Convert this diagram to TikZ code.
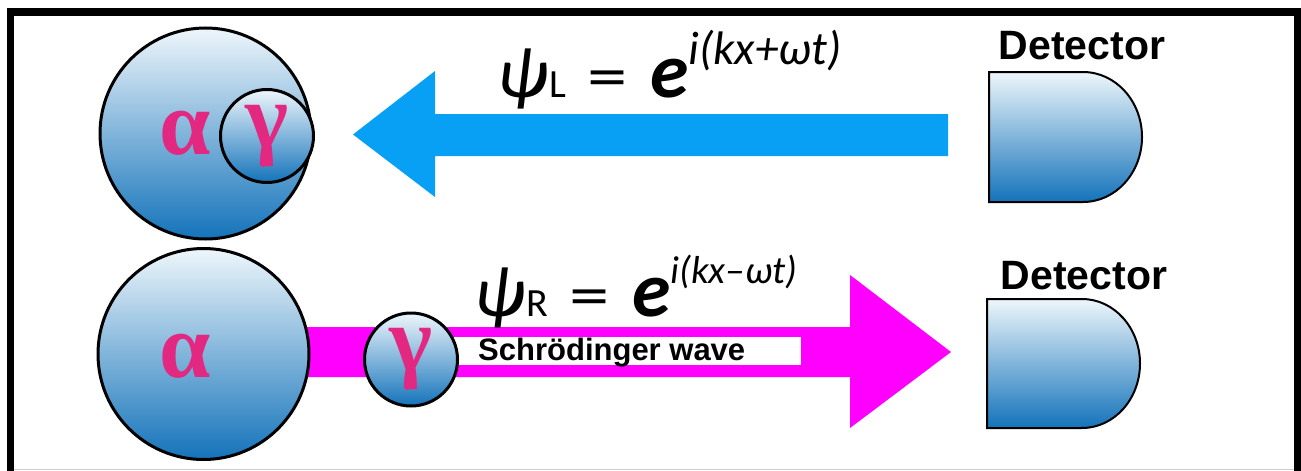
\documentclass[tikz,border=0pt]{standalone}
\usepackage{fontspec}
\setmainfont{Liberation Sans}
\newfontfamily\formfont{Carlito}
\newfontfamily\greekfont{Liberation Serif}
\usepackage{graphicx}
\usepackage{tikz}
\usetikzlibrary{positioning}
\definecolor{balltop}{RGB}{238,246,251}
\definecolor{ballbot}{RGB}{20,115,186}
\definecolor{greekpink}{RGB}{226,40,128}
\definecolor{waveblue}{RGB}{8,160,245}
\definecolor{wavemagenta}{RGB}{255,0,255}

\newcommand{\wavefn}[3]{{\fontsize{72}{72}\selectfont\itshape ψ}\hspace{1pt}{\fontsize{40}{40}\selectfont #1}\hspace{22pt}\scalebox{1.3}[1]{=}\hspace{22pt}{\fontsize{78}{78}\selectfont\bfseries\itshape e}\raisebox{33pt}{\fontsize{#3}{#3}\selectfont\itshape i(kx#2ωt)}}

\begin{document}
\begin{tikzpicture}[x=1pt,y=-1pt,
  ball/.style={circle, draw, line width=3pt, top color=balltop, bottom color=ballbot, inner sep=0pt},
  greek/.style={text=greekpink, font=\greekfont\bfseries\fontsize{92}{92}\selectfont, inner sep=0pt},
  dettext/.style={font=\bfseries\fontsize{41}{41}\selectfont, inner sep=0pt, anchor=base},
  formula/.style={font=\formfont\fontsize{62}{62}\selectfont, inner sep=0pt, anchor=base west},
  detector/.style={draw, line width=2pt, top color=balltop, bottom color=ballbot}]
  \useasboundingbox (0,0) rectangle (1301,471);
  \clip (0,0) rectangle (1301,471);
  \draw[line width=7.5pt] (10.5,12) rectangle (1297.5,490);
  \draw[gray!40, line width=1.2pt] (14,469.6) -- (1294,469.6);

  % left-going wave
  \fill[waveblue] (948,114) -- (435,114) -- (435,71) -- (353,134.5) -- (435,197) -- (435,156) -- (948,156) -- cycle;
  \node[formula] (psiL) at (497,97) {\wavefn{L}{+}{47}};

  \node[ball, minimum size=211pt] (bigT) at (205.5,133.5) {};
  \node[greek] (alphaT) at (185,133) {α};
  \node[ball, minimum size=93pt, greek] (gamT) at (267,136) {γ};

  % right-going wave
  \fill[wavemagenta] (300,327) -- (850,327) -- (850,275) -- (951,352) -- (850,428) -- (850,377) -- (300,377) -- cycle;
  \fill[white] (411,337) rectangle (801,365);
  \node[font=\bfseries\fontsize{31}{31}\selectfont, inner sep=0pt, anchor=base west] (schr) at (478,360.5) {Schrödinger wave};
  \node[formula] (psiR) at (474,316) {\wavefn{R}{–}{39}};

  \node[ball, minimum size=211pt] (bigB) at (203.5,354) {};
  \node[greek] (alphaB) at (185,356) {α};
  \node[ball, minimum size=93pt, greek] (gamB) at (411,359.5) {γ};

  % detectors
  \draw[detector] (989,72) -- (1083,72) arc[start angle=-90, end angle=90, x radius=59, y radius=65] -- (989,202) -- cycle;
  \node[dettext] (detT) at (1082,59) {Detector};
  \draw[detector] (987,299) -- (1082,299) arc[start angle=-90, end angle=90, x radius=58, y radius=64.5] -- (987,428) -- cycle;
  \node[dettext] (detB) at (1084,289) {Detector};
\end{tikzpicture}
\end{document}
